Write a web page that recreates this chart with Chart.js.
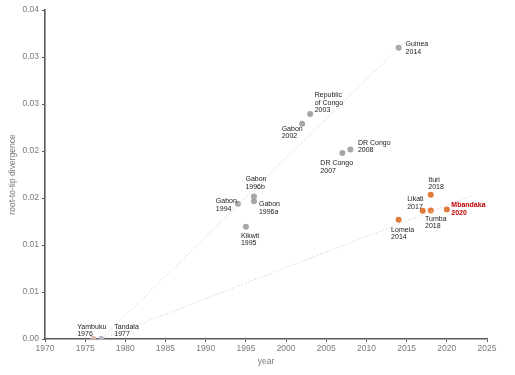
<!DOCTYPE html>
<html><head><meta charset="utf-8">
<script src="https://cdn.jsdelivr.net/npm/chart.js@4"></script>
<style>html,body{margin:0;padding:0;background:#fff}#wrap{width:515px;height:375px;position:relative}</style>
</head><body><div id="wrap"><canvas id="c" width="515" height="375"></canvas></div>
<script>
// ---- data ----
const grayNames  = ['Gabon\n1994','Gabon\n1996b','Gabon\n1996a','Kikwit\n1995','Gabon\n2002','Republic\nof Congo\n2003','DR Congo\n2007','DR Congo\n2008','Guinea\n2014'];
const grayYears  = [1994, 1996, 1996, 1995, 2002, 2003, 2007, 2008, 2014];
const grayValues = [0.01439, 0.01517, 0.01466, 0.01194, 0.02290, 0.02394, 0.01980, 0.02015, 0.03099];

const orangeNames  = ['Lomela\n2014','Likati\n2017','Tumba\n2018','Ituri\n2018','Mbandaka\n2020'];
const orangeYears  = [2014, 2017, 2018, 2018, 2020];
const orangeValues = [0.01269, 0.01365, 0.01368, 0.01535, 0.01378];

const yambukuName = 'Yambuku\n1976', yambukuYear = 1976, yambukuValue = 0.0;
const tandalaName = 'Tandala\n1977', tandalaYear = 1977, tandalaValue = 0.0;

const upperTrendYears  = [1977, 2015];
const upperTrendValues = [0.0, 0.0318];
const lowerTrendYears  = [1977, 2023];
const lowerTrendValues = [0.0, 0.0152];

const xTickMin = 1970, xTickMax = 2025, xTickStep = 5;
const yTickLabels = ['0.00','0.01','0.01','0.02','0.02','0.03','0.03','0.04'];
const yTickMax = 0.035, yTickStep = 0.005;

// ---- label layout (anchor offsets in px from the point) ----
const labelLayout = {
  'Yambuku\n1976': [-16, -12],
  'Tandala\n1977': [13, -12],
  'Gabon\n1994': [-22, -2.5],
  'Gabon\n1996b': [-8.5, -17],
  'Gabon\n1996a': [5, 3],
  'Kikwit\n1995': [-5, 9],
  'Gabon\n2002': [-20.5, 5],
  'Republic\nof Congo\n2003': [4.5, -18.6],
  'DR Congo\n2007': [-22, 10.5],
  'DR Congo\n2008': [7.5, -6.7],
  'Guinea\n2014': [7, -3.3],
  'Lomela\n2014': [-7.5, 10],
  'Likati\n2017': [-15.5, -11.3],
  'Tumba\n2018': [-5.7, 8.7],
  'Ituri\n2018': [-2.5, -14.7],
  'Mbandaka\n2020': [4.5, -4.3]
};
const FONT = '"Liberation Sans Narrow", "Liberation Sans", Arial, sans-serif';

function pts(xs, ys){ return xs.map((x,i)=>({x:x, y:ys[i]})); }

const labelPlugin = {
  id: 'pointLabels',
  afterDatasetsDraw(chart){
    const ctx = chart.ctx, xs = chart.scales.x, ys = chart.scales.y;
    const items = [];
    grayNames.forEach((n,i)=>items.push([n, grayYears[i], grayValues[i], '#1a1a1a', false]));
    orangeNames.forEach((n,i)=>items.push([n, orangeYears[i], orangeValues[i], n.startsWith('Mbandaka') ? '#c00000' : '#1a1a1a', n.startsWith('Mbandaka')]));
    items.push([yambukuName, yambukuYear, yambukuValue, '#1a1a1a', false]);
    items.push([tandalaName, tandalaYear, tandalaValue, '#1a1a1a', false]);
    ctx.save();
    ctx.textAlign = 'left';
    ctx.textBaseline = 'middle';
    items.forEach(([name, x, y, color, bold])=>{
      const px = xs.getPixelForValue(x), py = ys.getPixelForValue(y);
      const off = labelLayout[name] || [5, 0];
      ctx.fillStyle = color;
      ctx.font = (bold ? 'bold ' : '') + '7px ' + FONT;
      name.split('\n').forEach((line, k)=>{
        ctx.fillText(line, px + off[0], py + off[1] + k * 7.4);
      });
    });
    ctx.restore();
  }
};

new Chart(document.getElementById('c'), {
  type: 'scatter',
  data: {
    datasets: [
      { type:'line', data: pts(upperTrendYears, upperTrendValues), borderColor:'#d4d4d4', borderWidth:1, borderDash:[1.5,2], pointRadius:0, fill:false },
      { type:'line', data: pts(lowerTrendYears, lowerTrendValues), borderColor:'#d4d4d4', borderWidth:1, borderDash:[1.5,2], pointRadius:0, fill:false },
      { data: pts(grayYears, grayValues), backgroundColor:'#a6a6a6', borderColor:'#a6a6a6', pointRadius:3, borderWidth:0 },
      { data: pts(orangeYears, orangeValues), backgroundColor:'#e07b39', borderColor:'#e07b39', pointRadius:3, borderWidth:0 },
      { data: [{x:yambukuYear, y:yambukuValue}], backgroundColor:'#d6b6a3', borderColor:'#d6b6a3', pointRadius:3, borderWidth:0 },
      { data: [{x:tandalaYear, y:tandalaValue}], backgroundColor:'#a9b2c0', borderColor:'#a9b2c0', pointRadius:3, borderWidth:0 }
    ]
  },
  options: {
    responsive: false,
    animation: false,
    layout: { padding: { top: 10, right: 28, left: 0, bottom: 0 } },
    plugins: { legend: { display:false }, tooltip: { enabled:false } },
    scales: {
      x: {
        type: 'linear', min: xTickMin, max: xTickMax,
        ticks: { stepSize: xTickStep, color:'#7a7a7a', font:{ family: FONT, size: 8.5 }, padding: 2, maxRotation:0,
                 callback: v => String(v) },
        grid: { drawOnChartArea:false, drawTicks:true, tickLength:3, color:'#595959' },
        border: { color:'#595959', width:1.6 },
        title: { display:true, text:'year', color:'#7a7a7a', font:{ family: FONT, size: 8.5 }, padding:{top:2,bottom:8} },
        afterFit(s){ s.height = 36; }
      },
      y: {
        type: 'linear', min: 0, max: yTickMax,
        ticks: { stepSize: yTickStep, color:'#7a7a7a', font:{ family: FONT, size: 8.5 }, padding: 3,
                 callback: (v, i) => yTickLabels[i] },
        grid: { drawOnChartArea:false, drawTicks:true, tickLength:3, color:'#595959' },
        border: { color:'#595959', width:1.6 },
        title: { display:true, text:'root-to-tip divergence', color:'#7a7a7a', font:{ family: FONT, size: 8.5 }, padding:{top:8,bottom:2} },
        afterFit(s){ s.width = 45; }
      }
    }
  },
  plugins: [labelPlugin]
});
</script>
</body></html>
